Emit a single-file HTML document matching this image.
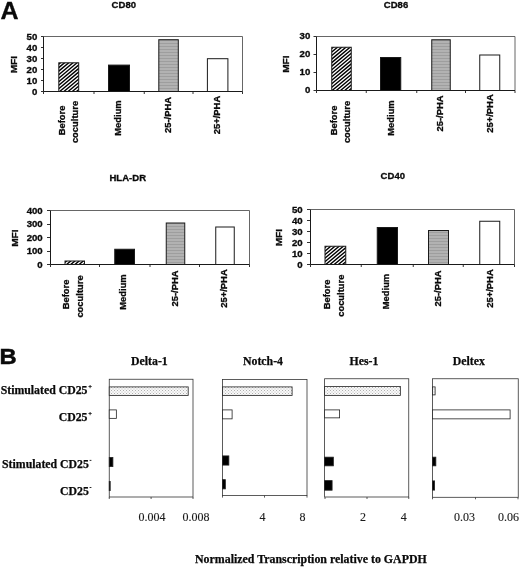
<!DOCTYPE html>
<html><head><meta charset="utf-8"><title>Figure</title>
<style>
html,body{margin:0;padding:0;background:#fff;}
body{width:520px;height:567px;overflow:hidden;font-family:"Liberation Sans",sans-serif;}
svg{display:block;filter:blur(0.35px);}
.sb{font-family:"Liberation Sans",sans-serif;font-weight:bold;fill:#0a0a0a;stroke:#0a0a0a;stroke-width:0.3;}
.big{font-family:"Liberation Sans",sans-serif;font-weight:bold;fill:#0a0a0a;}
.rb{font-family:"Liberation Serif",serif;font-weight:bold;fill:#0a0a0a;stroke:#0a0a0a;stroke-width:0.25;}
.rr{font-family:"Liberation Serif",serif;fill:#1a1a1a;stroke:#1a1a1a;stroke-width:0.12;}
</style></head><body>
<svg width="520" height="567" viewBox="0 0 520 567">
<defs>
<pattern id="hatch" width="3" height="3" patternUnits="userSpaceOnUse" patternTransform="rotate(-50)">
<rect width="3" height="3" fill="#fff"/><rect width="3" height="1.35" fill="#000"/>
</pattern>
<pattern id="hl" width="3" height="3" patternUnits="userSpaceOnUse">
<rect width="3" height="3" fill="#b2b2b2"/><rect width="3" height="1" y="1" fill="#9e9e9e"/>
</pattern>
<pattern id="dots" width="3" height="3" patternUnits="userSpaceOnUse">
<rect width="3" height="3" fill="#f8f8f8"/><rect width="1" height="1" x="0" y="0" fill="#b0b0b0"/><rect width="1" height="1" x="1.5" y="1.5" fill="#bcbcbc"/>
</pattern>
</defs>
<rect width="520" height="567" fill="#fff"/>

<text class="big" font-size="23.8" transform="translate(0.6 18.8) scale(1.05 1)" stroke="#0a0a0a" stroke-width="0.3">A</text>
<text class="big" font-size="22.8" transform="translate(-0.4 364.4) scale(1.04 1)" stroke="#0a0a0a" stroke-width="0.5">B</text>
<g>
<text class="sb" font-size="9" text-anchor="middle" transform="translate(123.8 8.2) scale(1.06 1)">CD80</text>
<path d="M43.5 36.5H242.5V91.5" fill="none" stroke="#555" stroke-width="0.9"/>
<clipPath id="c0"><rect x="58.8" y="62.8" width="19.9" height="28.7"/></clipPath>
<rect x="58.8" y="62.8" width="19.9" height="28.7" fill="#fff"/>
<path d="M57.3 61.8l22.9 -19.22M57.3 65.32l22.9 -19.22M57.3 68.85l22.9 -19.22M57.3 72.37l22.9 -19.22M57.3 75.9l22.9 -19.22M57.3 79.42l22.9 -19.22M57.3 82.95l22.9 -19.22M57.3 86.47l22.9 -19.22M57.3 90l22.9 -19.22M57.3 93.52l22.9 -19.22M57.3 97.05l22.9 -19.22M57.3 100.57l22.9 -19.22M57.3 104.1l22.9 -19.22M57.3 107.62l22.9 -19.22M57.3 111.14l22.9 -19.22" stroke="#000" stroke-width="1.4" fill="none" clip-path="url(#c0)"/>
<rect x="58.8" y="62.8" width="19.9" height="28.7" fill="none" stroke="#1a1a1a" stroke-width="1"/>
<rect x="108.5" y="65.1" width="21" height="26.4" fill="#000" stroke="#1a1a1a" stroke-width="1"/>
<rect x="158.8" y="39.7" width="19.5" height="51.8" fill="url(#hl)" stroke="#1a1a1a" stroke-width="1"/>
<rect x="207.4" y="58.7" width="20.5" height="32.8" fill="#fff" stroke="#1a1a1a" stroke-width="1"/>
<path d="M43.5 36.5V91.5H242.5" fill="none" stroke="#1a1a1a" stroke-width="1"/>
<text class="sb" font-size="8.6" text-anchor="end" transform="translate(37.3 94.5) scale(1.12 1)">0</text>
<text class="sb" font-size="8.6" text-anchor="end" transform="translate(37.3 83.5) scale(1.12 1)">10</text>
<text class="sb" font-size="8.6" text-anchor="end" transform="translate(37.3 72.5) scale(1.12 1)">20</text>
<text class="sb" font-size="8.6" text-anchor="end" transform="translate(37.3 61.5) scale(1.12 1)">30</text>
<text class="sb" font-size="8.6" text-anchor="end" transform="translate(37.3 50.5) scale(1.12 1)">40</text>
<text class="sb" font-size="8.6" text-anchor="end" transform="translate(37.3 39.5) scale(1.12 1)">50</text>
<path d="M43.5 91.5h-2.5M43.5 80.5h-2.5M43.5 69.5h-2.5M43.5 58.5h-2.5M43.5 47.5h-2.5M43.5 36.5h-2.5M43.5 91.5v2.5M94 91.5v2.5M144.25 91.5v2.5M193 91.5v2.5M242.5 91.5v2.5" stroke="#1a1a1a" stroke-width="0.9" fill="none"/>
<text class="sb" font-size="9" text-anchor="middle" transform="translate(17.3 64.7) rotate(-90) scale(1.12 1)">MFI</text>
<text class="sb" font-size="9.2" text-anchor="middle" transform="translate(64.9 120.5) rotate(-90) scale(1.02 1)">Before</text>
<text class="sb" font-size="9.2" text-anchor="middle" transform="translate(78.4 122) rotate(-90) scale(1.02 1)">coculture</text>
<text class="sb" font-size="9.2" text-anchor="middle" transform="translate(120.5 118) rotate(-90) scale(1.02 1)">Medium</text>
<text class="sb" font-size="9.2" text-anchor="middle" transform="translate(170.5 115) rotate(-90) scale(1.02 1)">25-/PHA</text>
<text class="sb" font-size="9.2" text-anchor="middle" transform="translate(219.5 115) rotate(-90) scale(1.02 1)">25+/PHA</text>
</g>
<g>
<text class="sb" font-size="9" text-anchor="middle" transform="translate(396 8.3) scale(1.06 1)">CD86</text>
<path d="M316.5 36.5H515V90.5" fill="none" stroke="#555" stroke-width="0.9"/>
<clipPath id="c1"><rect x="331.75" y="47.25" width="19.5" height="43.25"/></clipPath>
<rect x="331.75" y="47.25" width="19.5" height="43.25" fill="#fff"/>
<path d="M330.25 46.25l22.5 -18.88M330.25 49.77l22.5 -18.88M330.25 53.3l22.5 -18.88M330.25 56.82l22.5 -18.88M330.25 60.35l22.5 -18.88M330.25 63.87l22.5 -18.88M330.25 67.4l22.5 -18.88M330.25 70.92l22.5 -18.88M330.25 74.45l22.5 -18.88M330.25 77.97l22.5 -18.88M330.25 81.5l22.5 -18.88M330.25 85.02l22.5 -18.88M330.25 88.55l22.5 -18.88M330.25 92.07l22.5 -18.88M330.25 95.59l22.5 -18.88M330.25 99.12l22.5 -18.88M330.25 102.64l22.5 -18.88M330.25 106.17l22.5 -18.88M330.25 109.69l22.5 -18.88" stroke="#000" stroke-width="1.4" fill="none" clip-path="url(#c1)"/>
<rect x="331.75" y="47.25" width="19.5" height="43.25" fill="none" stroke="#1a1a1a" stroke-width="1"/>
<rect x="380.5" y="57.5" width="20.25" height="33" fill="#000" stroke="#1a1a1a" stroke-width="1"/>
<rect x="431.75" y="39.75" width="18.5" height="50.75" fill="url(#hl)" stroke="#1a1a1a" stroke-width="1"/>
<rect x="479.75" y="55" width="20" height="35.5" fill="#fff" stroke="#1a1a1a" stroke-width="1"/>
<path d="M316.5 36.5V90.5H515" fill="none" stroke="#1a1a1a" stroke-width="1"/>
<text class="sb" font-size="8.6" text-anchor="end" transform="translate(310.3 92.9) scale(1.12 1)">0</text>
<text class="sb" font-size="8.6" text-anchor="end" transform="translate(310.3 74.9) scale(1.12 1)">10</text>
<text class="sb" font-size="8.6" text-anchor="end" transform="translate(310.3 56.9) scale(1.12 1)">20</text>
<text class="sb" font-size="8.6" text-anchor="end" transform="translate(310.3 38.9) scale(1.12 1)">30</text>
<path d="M316.5 90.5h-3M316.5 72.5h-3M316.5 54.5h-3M316.5 36.5h-3M316.5 90.5v2.5M366.25 90.5v2.5M416.75 90.5v2.5M465.5 90.5v2.5M515 90.5v2.5" stroke="#1a1a1a" stroke-width="0.9" fill="none"/>
<text class="sb" font-size="9" text-anchor="middle" transform="translate(289 64.2) rotate(-90) scale(1.12 1)">MFI</text>
<text class="sb" font-size="9.2" text-anchor="middle" transform="translate(337 120.5) rotate(-90) scale(1.02 1)">Before</text>
<text class="sb" font-size="9.2" text-anchor="middle" transform="translate(350.25 122) rotate(-90) scale(1.02 1)">coculture</text>
<text class="sb" font-size="9.2" text-anchor="middle" transform="translate(394 118) rotate(-90) scale(1.02 1)">Medium</text>
<text class="sb" font-size="9.2" text-anchor="middle" transform="translate(443 113.5) rotate(-90) scale(1.02 1)">25-/PHA</text>
<text class="sb" font-size="9.2" text-anchor="middle" transform="translate(492.5 113.5) rotate(-90) scale(1.02 1)">25+/PHA</text>
</g>
<g>
<text class="sb" font-size="9" text-anchor="middle" transform="translate(127.75 180.7) scale(1.06 1)">HLA-DR</text>
<path d="M50.5 210.5H249.5V264.5" fill="none" stroke="#555" stroke-width="0.9"/>
<clipPath id="c2"><rect x="65" y="261" width="19.5" height="3.5"/></clipPath>
<rect x="65" y="261" width="19.5" height="3.5" fill="#fff"/>
<path d="M63.5 260l22.5 -18.88M63.5 263.52l22.5 -18.88M63.5 267.05l22.5 -18.88M63.5 270.57l22.5 -18.88M63.5 274.1l22.5 -18.88M63.5 277.62l22.5 -18.88M63.5 281.15l22.5 -18.88M63.5 284.67l22.5 -18.88" stroke="#000" stroke-width="1.4" fill="none" clip-path="url(#c2)"/>
<rect x="65" y="261" width="19.5" height="3.5" fill="none" stroke="#1a1a1a" stroke-width="1"/>
<rect x="114.75" y="249.25" width="19.75" height="15.25" fill="#000" stroke="#1a1a1a" stroke-width="1"/>
<rect x="166.25" y="223" width="18.5" height="41.5" fill="url(#hl)" stroke="#1a1a1a" stroke-width="1"/>
<rect x="215.75" y="227" width="18.5" height="37.5" fill="#fff" stroke="#1a1a1a" stroke-width="1"/>
<path d="M50.5 210.5V264.5H249.5" fill="none" stroke="#1a1a1a" stroke-width="1"/>
<text class="sb" font-size="8.6" text-anchor="end" transform="translate(42.7 267.5) scale(1.12 1)">0</text>
<text class="sb" font-size="8.6" text-anchor="end" transform="translate(42.7 254) scale(1.12 1)">100</text>
<text class="sb" font-size="8.6" text-anchor="end" transform="translate(42.7 240.5) scale(1.12 1)">200</text>
<text class="sb" font-size="8.6" text-anchor="end" transform="translate(42.7 227) scale(1.12 1)">300</text>
<text class="sb" font-size="8.6" text-anchor="end" transform="translate(42.7 213.5) scale(1.12 1)">400</text>
<path d="M50.5 264.5h-3.5M50.5 251.5h-3.5M50.5 237.5h-3.5M50.5 224.5h-3.5M50.5 210.5h-3.5M50.5 264.5v2.5M99.5 264.5v2.5M150 264.5v2.5M199.5 264.5v2.5M249.5 264.5v2.5" stroke="#1a1a1a" stroke-width="0.9" fill="none"/>
<text class="sb" font-size="9" text-anchor="middle" transform="translate(17.6 238.2) rotate(-90) scale(1.12 1)">MFI</text>
<text class="sb" font-size="9.2" text-anchor="middle" transform="translate(69 294.5) rotate(-90) scale(1.02 1)">Before</text>
<text class="sb" font-size="9.2" text-anchor="middle" transform="translate(83 296.5) rotate(-90) scale(1.02 1)">coculture</text>
<text class="sb" font-size="9.2" text-anchor="middle" transform="translate(125.5 292) rotate(-90) scale(1.02 1)">Medium</text>
<text class="sb" font-size="9.2" text-anchor="middle" transform="translate(178 288.5) rotate(-90) scale(1.02 1)">25-/PHA</text>
<text class="sb" font-size="9.2" text-anchor="middle" transform="translate(226.5 288.5) rotate(-90) scale(1.02 1)">25+/PHA</text>
</g>
<g>
<text class="sb" font-size="9" text-anchor="middle" transform="translate(392.8 179.1) scale(1.06 1)">CD40</text>
<path d="M310.5 209.5H514.5V264.5" fill="none" stroke="#555" stroke-width="0.9"/>
<clipPath id="c3"><rect x="325" y="246.25" width="20.75" height="18.25"/></clipPath>
<rect x="325" y="246.25" width="20.75" height="18.25" fill="#fff"/>
<path d="M323.5 245.25l23.75 -19.93M323.5 248.77l23.75 -19.93M323.5 252.3l23.75 -19.93M323.5 255.82l23.75 -19.93M323.5 259.35l23.75 -19.93M323.5 262.87l23.75 -19.93M323.5 266.4l23.75 -19.93M323.5 269.92l23.75 -19.93M323.5 273.45l23.75 -19.93M323.5 276.97l23.75 -19.93M323.5 280.5l23.75 -19.93M323.5 284.02l23.75 -19.93M323.5 287.55l23.75 -19.93" stroke="#000" stroke-width="1.4" fill="none" clip-path="url(#c3)"/>
<rect x="325" y="246.25" width="20.75" height="18.25" fill="none" stroke="#1a1a1a" stroke-width="1"/>
<rect x="377.25" y="227.5" width="20.25" height="37" fill="#000" stroke="#1a1a1a" stroke-width="1"/>
<rect x="428.5" y="230.5" width="20" height="34" fill="url(#hl)" stroke="#1a1a1a" stroke-width="1"/>
<rect x="479.75" y="221.25" width="20" height="43.25" fill="#fff" stroke="#1a1a1a" stroke-width="1"/>
<path d="M310.5 209.5V264.5H514.5" fill="none" stroke="#1a1a1a" stroke-width="1"/>
<text class="sb" font-size="8.6" text-anchor="end" transform="translate(302.7 267.5) scale(1.12 1)">0</text>
<text class="sb" font-size="8.6" text-anchor="end" transform="translate(302.7 256.5) scale(1.12 1)">10</text>
<text class="sb" font-size="8.6" text-anchor="end" transform="translate(302.7 245.5) scale(1.12 1)">20</text>
<text class="sb" font-size="8.6" text-anchor="end" transform="translate(302.7 234.5) scale(1.12 1)">30</text>
<text class="sb" font-size="8.6" text-anchor="end" transform="translate(302.7 223.5) scale(1.12 1)">40</text>
<text class="sb" font-size="8.6" text-anchor="end" transform="translate(302.7 212.5) scale(1.12 1)">50</text>
<path d="M310.5 264.5h-3.5M310.5 253.5h-3.5M310.5 242.5h-3.5M310.5 231.5h-3.5M310.5 220.5h-3.5M310.5 209.5h-3.5M310.5 264.5v2.5M361.25 264.5v2.5M413.25 264.5v2.5M463.25 264.5v2.5M514.5 264.5v2.5" stroke="#1a1a1a" stroke-width="0.9" fill="none"/>
<text class="sb" font-size="9" text-anchor="middle" transform="translate(281.5 237.7) rotate(-90) scale(1.12 1)">MFI</text>
<text class="sb" font-size="9.2" text-anchor="middle" transform="translate(329.75 294.5) rotate(-90) scale(1.02 1)">Before</text>
<text class="sb" font-size="9.2" text-anchor="middle" transform="translate(344 295.7) rotate(-90) scale(1.02 1)">coculture</text>
<text class="sb" font-size="9.2" text-anchor="middle" transform="translate(389 291.5) rotate(-90) scale(1.02 1)">Medium</text>
<text class="sb" font-size="9.2" text-anchor="middle" transform="translate(440.5 288.5) rotate(-90) scale(1.02 1)">25-/PHA</text>
<text class="sb" font-size="9.2" text-anchor="middle" transform="translate(492.5 288.5) rotate(-90) scale(1.02 1)">25+/PHA</text>
</g>
<text class="rb" x="87.5" y="394.3" font-size="11.8" text-anchor="end">Stimulated CD25</text>
<text class="rb" x="88.3" y="389.1" font-size="6.5">+</text>
<text class="rb" x="87.5" y="421" font-size="11.8" text-anchor="end">CD25</text>
<text class="rb" x="88.3" y="415.8" font-size="6.5">+</text>
<text class="rb" x="88.9" y="467.5" font-size="11.8" text-anchor="end">Stimulated CD25</text>
<rect x="89.6" y="459.9" width="1.8" height="0.9" fill="#111"/>
<text class="rb" x="88.9" y="494.6" font-size="11.8" text-anchor="end">CD25</text>
<rect x="89.6" y="487" width="1.8" height="0.9" fill="#111"/>
<g>
<text class="rb" x="149.4" y="365.2" font-size="11.8" text-anchor="middle">Delta-1</text>
<rect x="109.25" y="379.25" width="83.75" height="117.75" fill="#fff" stroke="#333" stroke-width="0.8"/>
<rect x="109.25" y="386.9" width="78.95" height="8.5" fill="url(#dots)" stroke="#222" stroke-width="0.8"/>
<rect x="109.25" y="409.9" width="7.1" height="8.45" fill="#fff" stroke="#222" stroke-width="0.8"/>
<rect x="109.25" y="457.4" width="3.65" height="9.2" fill="#000" stroke="#222" stroke-width="0.8"/>
<rect x="109.25" y="481.4" width="0.95" height="9.2" fill="#000" stroke="#222" stroke-width="0.8"/>
<path d="M109.25 497v2M151.1 497v2M193 497v2" stroke="#333" stroke-width="0.8" fill="none"/>
<text class="rr" x="152" y="521.3" font-size="12" text-anchor="middle">0.004</text>
<text class="rr" x="196" y="521.3" font-size="12" text-anchor="middle">0.008</text>
</g>
<g>
<text class="rb" x="263" y="365.2" font-size="11.8" text-anchor="middle">Notch-4</text>
<rect x="222.5" y="379.5" width="84.5" height="116.1" fill="#fff" stroke="#333" stroke-width="0.8"/>
<rect x="222.5" y="386.9" width="69.6" height="8.5" fill="url(#dots)" stroke="#222" stroke-width="0.8"/>
<rect x="222.5" y="409.9" width="9.6" height="8.95" fill="#fff" stroke="#222" stroke-width="0.8"/>
<rect x="222.5" y="455.9" width="6.35" height="9.2" fill="#000" stroke="#222" stroke-width="0.8"/>
<rect x="222.5" y="479.65" width="2.85" height="9.25" fill="#000" stroke="#222" stroke-width="0.8"/>
<path d="M222.5 495.6v2M264.5 495.6v2M307 495.6v2" stroke="#333" stroke-width="0.8" fill="none"/>
<text class="rr" x="262.5" y="521.3" font-size="12" text-anchor="middle">4</text>
<text class="rr" x="302.5" y="521.3" font-size="12" text-anchor="middle">8</text>
</g>
<g>
<text class="rb" x="364" y="365.2" font-size="11.8" text-anchor="middle">Hes-1</text>
<rect x="324.6" y="378.75" width="84.15" height="118.25" fill="#fff" stroke="#333" stroke-width="0.8"/>
<rect x="324.6" y="386.4" width="75.75" height="9" fill="url(#dots)" stroke="#222" stroke-width="0.8"/>
<rect x="324.6" y="409.9" width="15" height="7.95" fill="#fff" stroke="#222" stroke-width="0.8"/>
<rect x="324.6" y="457.15" width="8.75" height="8.7" fill="#000" stroke="#222" stroke-width="0.8"/>
<rect x="324.6" y="480.6" width="7.5" height="9.6" fill="#000" stroke="#222" stroke-width="0.8"/>
<path d="M325 497v2M367 497v2M408.75 497v2" stroke="#333" stroke-width="0.8" fill="none"/>
<text class="rr" x="363" y="521.3" font-size="12" text-anchor="middle">2</text>
<text class="rr" x="403.75" y="521.3" font-size="12" text-anchor="middle">4</text>
</g>
<g>
<text class="rb" x="468.75" y="365.2" font-size="11.8" text-anchor="middle">Deltex</text>
<rect x="432.5" y="378.75" width="85.75" height="118.55" fill="#fff" stroke="#333" stroke-width="0.8"/>
<rect x="432.5" y="386.9" width="2.6" height="8" fill="url(#dots)" stroke="#222" stroke-width="0.8"/>
<rect x="432.5" y="409.9" width="77.6" height="8.95" fill="#fff" stroke="#222" stroke-width="0.8"/>
<rect x="432.5" y="457.15" width="3.35" height="8.7" fill="#000" stroke="#222" stroke-width="0.8"/>
<rect x="432.5" y="480.9" width="2.1" height="9.2" fill="#000" stroke="#222" stroke-width="0.8"/>
<path d="M432.5 497.3v2M475.5 497.3v2M518 497.3v2" stroke="#333" stroke-width="0.8" fill="none"/>
<text class="rr" x="464.5" y="521.3" font-size="12" text-anchor="middle">0.03</text>
<text class="rr" x="508.4" y="521.3" font-size="12" text-anchor="middle">0.06</text>
</g>
<text class="rb" x="310.9" y="563.3" font-size="11.9" text-anchor="middle">Normalized Transcription relative to GAPDH</text>
</svg></body></html>
